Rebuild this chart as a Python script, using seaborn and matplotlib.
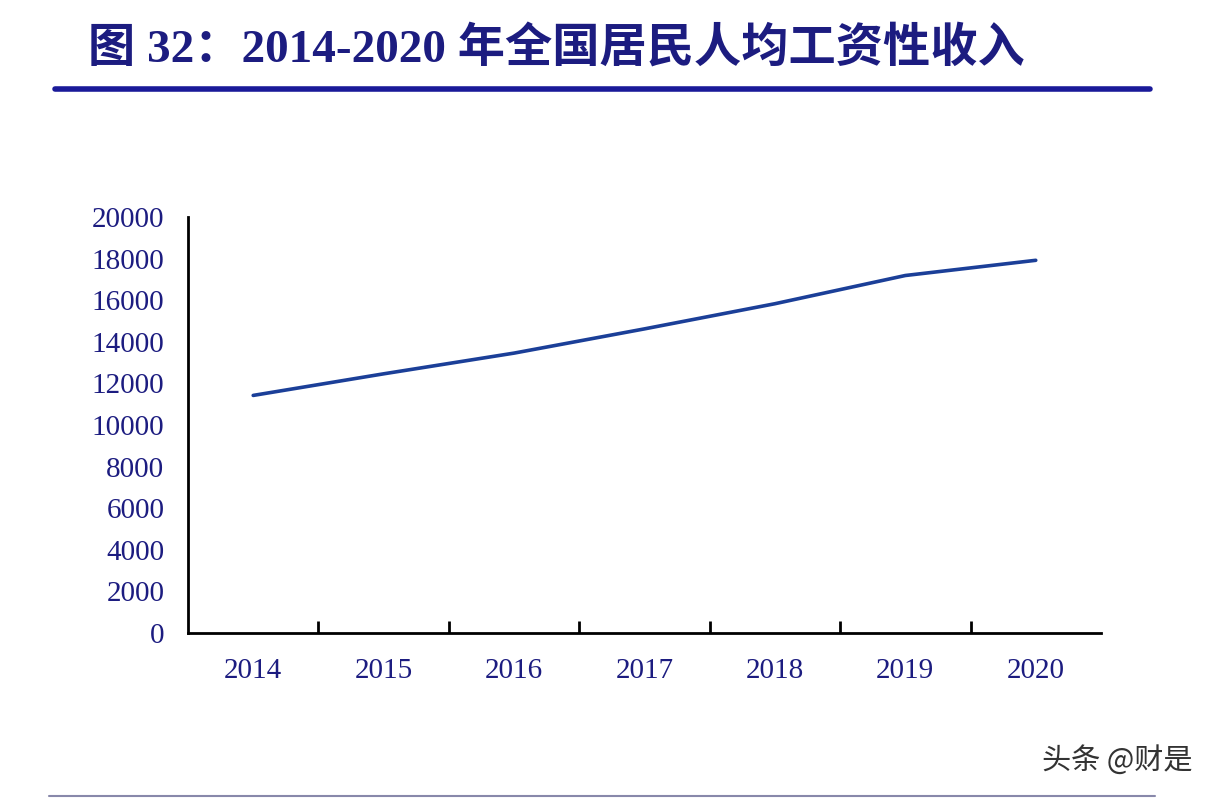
import numpy as np
import pandas as pd
import matplotlib.pyplot as plt
import seaborn as sns
from matplotlib.ticker import FixedLocator

years = ['2014', '2015', '2016', '2017', '2018', '2019', '2020']
wage_income = [11421, 12459, 13455, 14620, 15829, 17186, 17917]
y_ticks = list(range(0, 20001, 2000))

title_text = '图 32：2014-2020 年全国居民人均工资性收入'
watermark = '头条 @财是'

sns.set_theme(style='white')
plt.rcParams['font.family'] = ['Liberation Serif', 'Noto Sans CJK SC', 'DejaVu Sans']

navy = '#1c1c80'
line_blue = '#1b3f98'

df = pd.DataFrame({'year': years, 'income': wage_income})

fig = plt.figure(figsize=(12.16, 7.98), dpi=100)
ax = fig.add_axes([0.1546, 0.2068, 0.7508, 0.5213])

sns.lineplot(data=df, x='year', y='income', ax=ax, color=line_blue, linewidth=2.6)

ax.set_xlim(-0.5, len(years) - 0.5)
ax.set_ylim(0, 20000)
ax.set_yticks(y_ticks)
ax.set_yticklabels([str(v) for v in y_ticks])
ax.set_xticks(range(len(years)))
ax.set_xticklabels(years)
ax.xaxis.set_minor_locator(FixedLocator(np.arange(0.5, len(years) - 0.5, 1)))
ax.set_xlabel('')
ax.set_ylabel('')

for side in ['top', 'right']:
    ax.spines[side].set_visible(False)
for side in ['left', 'bottom']:
    ax.spines[side].set_color('black')
    ax.spines[side].set_linewidth(2)

ax.tick_params(axis='y', which='major', direction='in', length=9, width=2,
               color='black', labelsize=21, labelcolor=navy, pad=17)
ax.tick_params(axis='x', which='major', length=0, labelsize=21,
               labelcolor=navy, pad=18)
ax.tick_params(axis='x', which='minor', direction='in', length=9, width=2,
               color='black', bottom=True)
ax.grid(False)

# title and rule
fig.text(0.072, 0.923, title_text, fontsize=34, fontweight='bold', color=navy,
         ha='left', va='baseline')
fig.add_artist(plt.Line2D([0.045, 0.946], [0.889, 0.889], color='#1a1a99',
                          linewidth=4, transform=fig.transFigure))

# watermark and bottom rule
fig.text(0.981, 0.036, watermark, fontsize=21, color='#333333', ha='right',
         va='baseline', family=['Noto Sans CJK SC', 'DejaVu Sans'])
fig.add_artist(plt.Line2D([0.04, 0.95], [0.003, 0.003], color='#8888aa',
                          linewidth=1.5, transform=fig.transFigure))

plt.savefig('out.png', dpi=100)
